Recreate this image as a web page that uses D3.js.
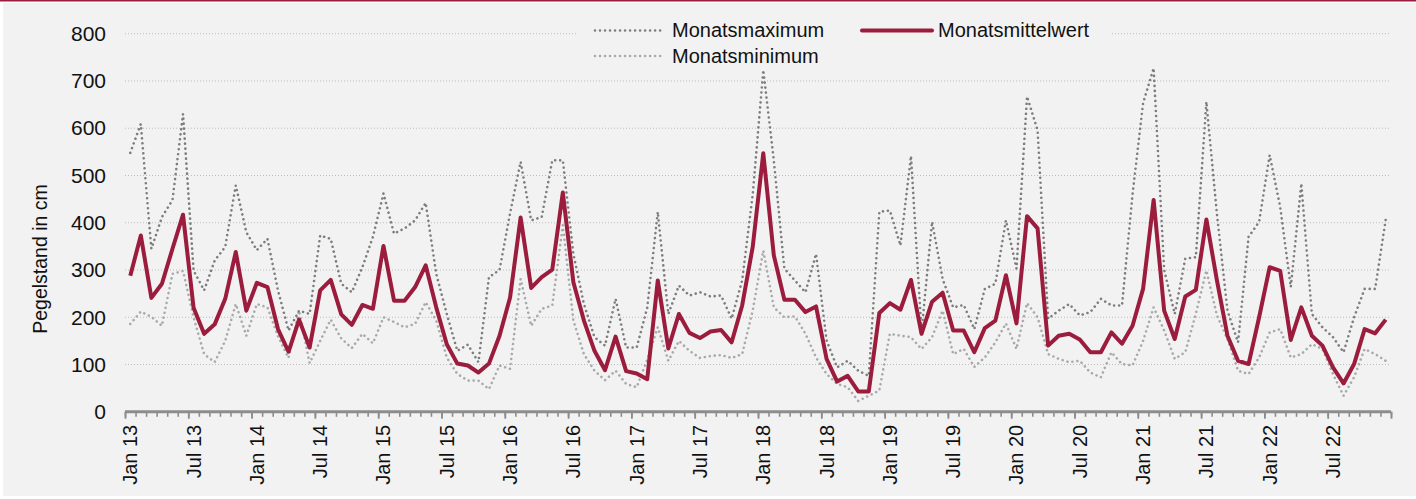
<!DOCTYPE html>
<html>
<head>
<meta charset="utf-8">
<script src="https://cdn.jsdelivr.net/npm/d3@7"></script>
<style>
  body { margin: 0; background: #ffffff; }
  text { font-family: "Liberation Sans", Arial, sans-serif; fill: #111111; }
</style>
</head>
<body>
<div id="chart"></div>
<script>
// years and month names used for the categories (Jan 13 ... Dec 22)
var years = ["13", "14", "15", "16", "17", "18", "19", "20", "21", "22"];
var monthNames = ["Jan", "Feb", "Mrz", "Apr", "Mai", "Jun", "Jul", "Aug", "Sep", "Okt", "Nov", "Dez"];

// labels shown under the x axis
var tickLabels = ["Jan 13", "Jul 13", "Jan 14", "Jul 14", "Jan 15", "Jul 15", "Jan 16", "Jul 16",
  "Jan 17", "Jul 17", "Jan 18", "Jul 18", "Jan 19", "Jul 19", "Jan 20", "Jul 20",
  "Jan 21", "Jul 21", "Jan 22", "Jul 22"];

var yTicks = [0, 100, 200, 300, 400, 500, 600, 700, 800];

// monthly mean water level (cm)
var meanValues = [
  288, 373, 241, 271, 345, 417, 220, 165, 185, 239, 338, 214,
  273, 264, 175, 127, 195, 136, 257, 279, 206, 184, 226, 218,
  351, 235, 235, 264, 310, 221, 143, 102, 98, 83, 102, 161,
  242, 411, 262, 285, 301, 464, 274, 193, 129, 88, 159, 86,
  81, 69, 278, 134, 207, 167, 156, 170, 173, 147, 225, 349,
  547, 331, 237, 237, 211, 223, 112, 64, 76, 43, 43, 209,
  230, 216, 279, 165, 233, 252, 172, 172, 126, 177, 193, 289,
  187, 414, 388, 140, 161, 165, 153, 126, 126, 168, 144, 182,
  260, 448, 214, 154, 244, 258, 407, 278, 161, 108, 101, 200,
  306, 298, 152, 221, 161, 140, 94, 60, 101, 175, 166, 195
];

// monthly maximum (cm)
var maxValues = [
  548, 609, 345, 412, 448, 630, 299, 257, 320, 349, 479, 380,
  342, 366, 257, 172, 214, 207, 373, 366, 271, 253, 306, 370,
  462, 377, 388, 405, 442, 292, 207, 129, 142, 105, 285, 300,
  420, 529, 405, 412, 532, 532, 334, 228, 158, 140, 239, 136,
  136, 220, 423, 207, 267, 246, 253, 244, 246, 197, 278, 460,
  723, 532, 303, 278, 253, 334, 151, 94, 108, 87, 76, 423,
  426, 352, 541, 170, 402, 281, 221, 226, 175, 260, 271, 405,
  303, 667, 596, 197, 214, 228, 204, 211, 239, 225, 225, 460,
  653, 727, 300, 207, 324, 327, 656, 419, 214, 147, 370, 402,
  543, 433, 264, 483, 207, 179, 158, 126, 200, 260, 260, 407
];

// monthly minimum (cm)
var minValues = [
  186, 212, 201, 182, 292, 298, 200, 122, 105, 150, 228, 161,
  228, 221, 160, 114, 214, 103, 150, 195, 155, 135, 165, 145,
  200, 190, 179, 186, 232, 193, 115, 80, 66, 66, 48, 98,
  91, 281, 182, 218, 225, 395, 193, 122, 87, 67, 87, 59,
  52, 110, 179, 108, 150, 129, 114, 118, 120, 114, 122, 214,
  341, 221, 200, 202, 165, 115, 80, 59, 52, 23, 34, 45,
  165, 161, 158, 133, 158, 214, 122, 133, 95, 115, 147, 187,
  133, 230, 200, 122, 112, 105, 108, 83, 73, 126, 101, 98,
  150, 221, 172, 112, 126, 207, 299, 204, 154, 87, 80, 115,
  168, 175, 115, 122, 143, 133, 80, 34, 73, 133, 122, 108
];

var seriesNames = ["Monatsmaximum", "Monatsminimum", "Monatsmittelwert"];

window.onload = function() {
  drawChart();
};

function drawChart() {
  var width = 1416,
      height = 499,
      plot = { left: 125, right: 1391, top: 33.7, bottom: 411.8 };

  var red = "#9b1c3c";

  // build the month categories from years and month names
  var months = [];
  years.forEach(function(yr) {
    monthNames.forEach(function(m) {
      months.push(m + " " + yr);
    });
  });

  var svg = d3.select("#chart")
    .append("svg")
    .attr("width", width)
    .attr("height", height);

  // background and thin red top rule
  svg.append("rect")
    .attr("x", 3).attr("y", 3)
    .attr("width", width - 3).attr("height", height - 6)
    .attr("fill", "#f2f2f2");
  svg.append("rect")
    .attr("x", 0).attr("y", 0)
    .attr("width", width).attr("height", 1.5)
    .attr("fill", red);

  // scales
  var x = d3.scaleBand()
    .domain(months)
    .range([plot.left, plot.right])
    .padding(0);
  var bw = x.bandwidth();

  // scale on the band edges, only used for the small tick marks
  var xEdge = d3.scaleLinear()
    .domain([0, months.length])
    .range([plot.left, plot.right]);

  var y = d3.scaleLinear()
    .domain([0, 800])
    .range([plot.bottom, plot.top]);

  // dotted horizontal gridlines
  svg.append("g")
    .selectAll("line")
    .data(yTicks.filter(function(t) { return t > 0; }))
    .enter().append("line")
    .attr("x1", plot.left).attr("x2", plot.right)
    .attr("y1", function(d) { return y(d); })
    .attr("y2", function(d) { return y(d); })
    .attr("stroke", "#bcbcbc")
    .attr("stroke-width", 1)
    .attr("stroke-dasharray", "1 2");

  // y axis labels
  var yAxis = svg.append("g")
    .attr("transform", "translate(" + plot.left + ",0)")
    .call(d3.axisLeft(y).tickValues(yTicks).tickSize(0).tickPadding(19));
  yAxis.select(".domain").remove();
  yAxis.selectAll("text")
    .attr("font-size", "21px")
    .attr("font-family", "Liberation Sans, Arial, sans-serif")
    .attr("fill", "#111");

  // y title
  svg.append("text")
    .attr("transform", "translate(46.5,259) rotate(-90)")
    .attr("text-anchor", "middle")
    .attr("font-size", "19.5px")
    .text("Pegelstand in cm");

  // lines
  var line = d3.line()
    .x(function(d, i) { return x(months[i]) + bw / 2; })
    .y(function(d) { return y(d); });

  svg.append("path")
    .datum(minValues)
    .attr("d", line)
    .attr("fill", "none")
    .attr("stroke", "#a9a9a9")
    .attr("stroke-width", 2.6)
    .attr("stroke-linecap", "round")
    .attr("stroke-dasharray", "0.01 5");

  svg.append("path")
    .datum(maxValues)
    .attr("d", line)
    .attr("fill", "none")
    .attr("stroke", "#7d7d7d")
    .attr("stroke-width", 2.6)
    .attr("stroke-linecap", "round")
    .attr("stroke-dasharray", "0.01 5");

  svg.append("path")
    .datum(meanValues)
    .attr("d", line)
    .attr("fill", "none")
    .attr("stroke", red)
    .attr("stroke-width", 4)
    .attr("stroke-linejoin", "round");

  // x axis: minor ticks every month, longer ones every half year
  var minorAxis = svg.append("g")
    .attr("transform", "translate(0," + plot.bottom + ")")
    .call(d3.axisBottom(xEdge).tickValues(d3.range(0, months.length + 1))
      .tickSize(5).tickSizeOuter(0).tickFormat(""));
  minorAxis.selectAll(".tick line")
    .attr("stroke", "#8c8c8c").attr("stroke-width", 1.6);
  minorAxis.select(".domain").remove();

  var majorAxis = svg.append("g")
    .attr("transform", "translate(0," + plot.bottom + ")")
    .call(d3.axisBottom(xEdge).tickValues(d3.range(0, months.length + 1, 6))
      .tickSize(7).tickSizeOuter(0).tickFormat(""));
  majorAxis.selectAll(".tick line")
    .attr("stroke", "#8c8c8c").attr("stroke-width", 1.8);
  majorAxis.select(".domain").remove();

  svg.append("line")
    .attr("x1", plot.left).attr("x2", plot.right)
    .attr("y1", plot.bottom).attr("y2", plot.bottom)
    .attr("stroke", "#8c8c8c")
    .attr("stroke-width", 3);

  // x axis labels (every 6 months), rotated
  var labelMonths = months.filter(function(m, i) { return i % 6 === 0; });
  var xAxis = svg.append("g")
    .attr("transform", "translate(0," + plot.bottom + ")")
    .call(d3.axisBottom(x).tickValues(labelMonths).tickSize(0)
      .tickFormat(function(d, i) { return tickLabels[i]; }));
  xAxis.select(".domain").remove();
  xAxis.selectAll("text")
    .attr("transform", "rotate(-90)")
    .attr("text-anchor", "end")
    .attr("x", -13)
    .attr("y", 7)
    .attr("dy", 0)
    .attr("font-size", "20px")
    .attr("font-family", "Liberation Sans, Arial, sans-serif")
    .attr("fill", "#111");

  // legend box covers the top gridline
  var legend = svg.append("g");
  legend.append("rect")
    .attr("x", 577).attr("y", 12)
    .attr("width", 534).attr("height", 58)
    .attr("fill", "#f2f2f2");

  var legendItems = [
    { name: seriesNames[0], x1: 595, x2: 662, ly: 30.5, stroke: "#7d7d7d", dotted: true, tx: 672 },
    { name: seriesNames[1], x1: 595, x2: 662, ly: 56, stroke: "#a9a9a9", dotted: true, tx: 672 },
    { name: seriesNames[2], x1: 862, x2: 932, ly: 30.5, stroke: red, dotted: false, tx: 938 }
  ];

  legendItems.forEach(function(item) {
    var l = legend.append("line")
      .attr("x1", item.x1).attr("x2", item.x2)
      .attr("y1", item.ly).attr("y2", item.ly)
      .attr("stroke", item.stroke)
      .attr("stroke-linecap", "round");
    if (item.dotted) {
      l.attr("stroke-width", 2.6).attr("stroke-dasharray", "0.01 5");
    } else {
      l.attr("stroke-width", 4);
    }
    legend.append("text")
      .attr("x", item.tx)
      .attr("y", item.ly + 6.8)
      .attr("font-size", "20px")
      .text(item.name);
  });
}
</script>
</body>
</html>
